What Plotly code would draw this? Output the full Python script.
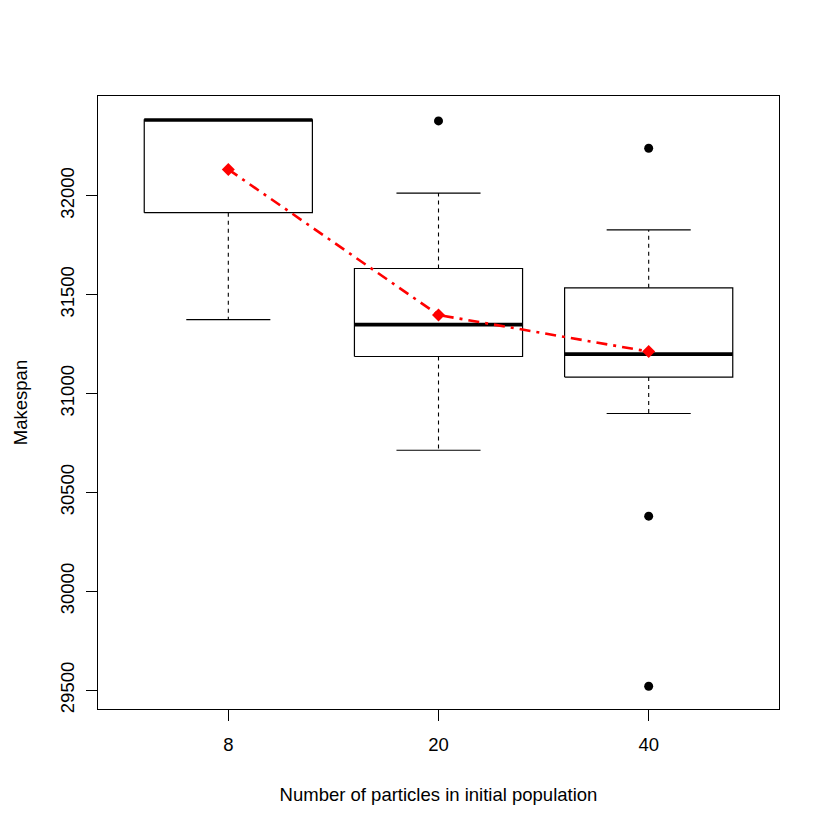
import plotly.graph_objects as go

# ---- data ----
categories = ["8", "20", "40"]
q1 = [31914, 31187, 31083]
medians = [32383, 31348, 31199]
q3 = [32383, 31632, 31534]
lower_whisker = [31373, 30713, 30899]
upper_whisker = [32383, 32013, 31827]
means = [32133, 31397, 31212]
outlier_group = ["20", "40", "40", "40"]
outlier_values = [32378, 32240, 30380, 29520]
y_ticks = [29500, 30000, 30500, 31000, 31500, 32000]

# ---- style ----
FONT = "Liberation Sans, Arial, Helvetica, sans-serif"
FS = 18.5
HALF = 0.4      # half box width (in category units)
CAP = 0.2       # half cap width

pos = {c: i + 1 for i, c in enumerate(categories)}
xs = [pos[c] for c in categories]

fig = go.Figure()

# boxes
bx, by = [], []
for x, a, b in zip(xs, q1, q3):
    bx += [x - HALF, x + HALF, x + HALF, x - HALF, x - HALF, None]
    by += [a, a, b, b, a, None]
fig.add_trace(go.Scatter(x=bx, y=by, mode="lines",
                         line=dict(color="black", width=1.2),
                         hoverinfo="skip", showlegend=False))

# whiskers (dashed)
wx, wy = [], []
for x, a, b, lo, hi in zip(xs, q1, q3, lower_whisker, upper_whisker):
    wx += [x, x, None, x, x, None]
    wy += [b, hi, None, a, lo, None]
fig.add_trace(go.Scatter(x=wx, y=wy, mode="lines",
                         line=dict(color="black", width=1.1, dash="4px,4px"),
                         hoverinfo="skip", showlegend=False))

# caps
cx, cy = [], []
for x, lo, hi in zip(xs, lower_whisker, upper_whisker):
    cx += [x - CAP, x + CAP, None, x - CAP, x + CAP, None]
    cy += [hi, hi, None, lo, lo, None]
fig.add_trace(go.Scatter(x=cx, y=cy, mode="lines",
                         line=dict(color="black", width=1.2),
                         hoverinfo="skip", showlegend=False))

# medians (thick)
mx, my = [], []
for x, m in zip(xs, medians):
    mx += [x - HALF, x + HALF, None]
    my += [m, m, None]
fig.add_trace(go.Scatter(x=mx, y=my, mode="lines",
                         line=dict(color="black", width=3.6),
                         hoverinfo="skip", showlegend=False))

# outliers
fig.add_trace(go.Scatter(x=[pos[g] for g in outlier_group], y=outlier_values,
                         mode="markers",
                         marker=dict(color="black", size=9, symbol="circle"),
                         showlegend=False))

# means
fig.add_trace(go.Scatter(x=xs, y=means, mode="lines+markers",
                         line=dict(color="#ff0000", width=2.6, dash="11px,6px,3px,6px"),
                         marker=dict(color="#ff0000", size=10, symbol="diamond"),
                         showlegend=False))

fig.update_layout(
    width=822, height=821,
    margin=dict(l=88, r=51, t=88, b=120),
    paper_bgcolor="white", plot_bgcolor="white",
    font=dict(family=FONT, size=FS, color="black"),
    showlegend=False,
    xaxis=dict(range=[0.38, 3.62], tickmode="array", tickvals=xs, ticktext=categories,
               tickfont=dict(size=FS),
               ticks="outside", ticklen=11, tickwidth=1, tickcolor="black",
               showline=True, mirror=True, linecolor="black", linewidth=1.2,
               showgrid=False, zeroline=False, ticklabelstandoff=8,
               title=dict(text="Number of particles in initial population",
                          font=dict(size=FS), standoff=33)),
    yaxis=dict(range=[29405, 32504], tickmode="array", tickvals=y_ticks,
               ticktext=[str(v) for v in y_ticks], tickangle=-90,
               tickfont=dict(size=FS),
               ticks="outside", ticklen=11, tickwidth=1, tickcolor="black",
               showline=True, mirror=True, linecolor="black", linewidth=1.2,
               showgrid=False, zeroline=False, ticklabelstandoff=5,
               title=dict(text="Makespan", font=dict(size=FS), standoff=24)),
)

fig.write_html("out.html")
